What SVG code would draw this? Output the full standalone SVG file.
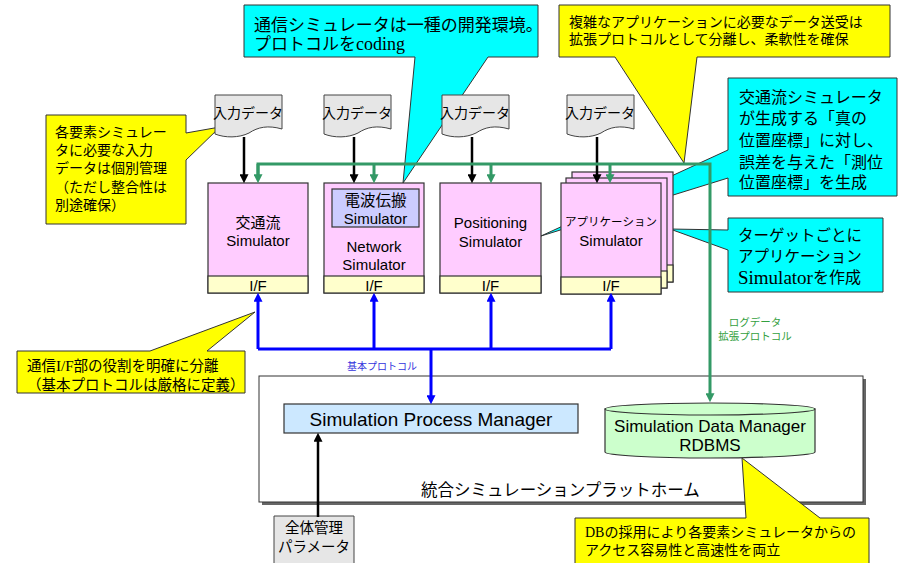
<svg xmlns="http://www.w3.org/2000/svg" width="899" height="563" viewBox="0 0 899 563">
<style>
text{font-family:'Liberation Sans','Noto Sans CJK JP',sans-serif;fill:#000;dominant-baseline:central}
.serif{font-family:'Liberation Serif','Noto Sans CJK JP',serif}
.c{text-anchor:middle}
.box{fill:#ffccff;stroke:#333;stroke-width:1.2}
.if{fill:#ffffcc;stroke:#333;stroke-width:1.2}
.doc{fill:#e6e6e6;stroke:#444;stroke-width:1}
.yel{fill:#ffff00;stroke:#333;stroke-width:1}
.cyan{fill:#00ffff;stroke:#333;stroke-width:1}
.blk{stroke:#000;stroke-width:2.5;fill:none}
.grn{stroke:#339966;stroke-width:3;fill:none}
.blu{stroke:#0000ff;stroke-width:3;fill:none}
.lbl{font-size:15px}
</style>
<defs>
<marker id="ab" markerUnits="userSpaceOnUse" markerWidth="9" markerHeight="9" viewBox="0 0 10 10" refX="2" refY="5" orient="auto"><path d="M0,0 L10,5 L0,10 Z" fill="#000"/></marker>
<marker id="ag" markerUnits="userSpaceOnUse" markerWidth="9" markerHeight="9" viewBox="0 0 10 10" refX="2" refY="5" orient="auto"><path d="M0,0 L10,5 L0,10 Z" fill="#339966"/></marker>
<marker id="abl" markerUnits="userSpaceOnUse" markerWidth="9" markerHeight="9" viewBox="0 0 10 10" refX="2" refY="5" orient="auto"><path d="M0,0 L10,5 L0,10 Z" fill="#0000ff"/></marker>
<path id="docshape" d="M0,0 H67 V34 C53,30 43,32 34,38 C24,43 10,43 0,39 Z"/>
</defs>

<!-- callouts behind nodes -->
<g id="callout-left">
<path class="yel" d="M46,115 H186 V133 L220,127 L186,160 V224 H46 Z"/>
<text x="55" y="132" font-size="14">各要素シミュレー</text>
<text x="55" y="150" font-size="14">タに必要な入力</text>
<text x="55" y="168" font-size="14">データは個別管理</text>
<text x="55" y="187" font-size="14">（ただし整合性は</text>
<text x="55" y="205" font-size="14">別途確保）</text>
</g>
<g id="callout-top">
<path class="cyan" d="M244,5 H538 V57 H488 L403,183 L415,57 H244 Z"/>
<text x="254" y="25" font-size="17">通信シミュレータは一種の開発環境。</text>
<text x="254" y="44" font-size="17">プロトコルを<tspan class="serif" font-size="18">coding</tspan></text>
</g>
<g id="callout-topright">
<path class="yel" d="M559,5 H890 V57 H697 L684,163 L615,57 H559 Z"/>
<text x="569" y="22" font-size="14">複雑なアプリケーションに必要なデータ送受は</text>
<text x="569" y="39" font-size="14">拡張プロトコルとして分離し、柔軟性を確保</text>
</g>
<g id="callout-right1">
<path class="cyan" d="M728,78 H897 V196 H728 V178 L541,236 L728,150 Z"/>
<text x="739" y="97" font-size="16">交通流シミュレータ</text>
<text x="739" y="118" font-size="16">が生成する「真の</text>
<text x="739" y="140" font-size="16">位置座標」に対し、</text>
<text x="739" y="162" font-size="16">誤差を与えた「測位</text>
<text x="739" y="182" font-size="16">位置座標」を生成</text>
</g>
<g id="callout-right2">
<path class="cyan" d="M728,218 H883 V292 H728 V250 L670,229 L728,230 Z"/>
<text x="738" y="235" font-size="15.5">ターゲットごとに</text>
<text x="738" y="256" font-size="15.5">アプリケーション</text>
<text x="738" y="277" font-size="16"><tspan class="serif" font-size="19">Simulator</tspan>を作成</text>
</g>
<g id="callout-bottomleft">
<path class="yel" d="M17,351 H150 L255,312 L207,351 H245 V393 H17 Z"/>
<text x="27" y="366" font-size="14.5">通信<tspan class="serif" font-size="15">I/F</tspan>部の役割を明確に分離</text>
<text x="27" y="385" font-size="14.5">（基本プロトコルは厳格に定義）</text>
</g>

<!-- input docs -->
<g id="doc1"><use href="#docshape" class="doc" x="215" y="95"/><text class="c" x="248" y="113" font-size="14">入力データ</text></g>
<g id="doc2"><use href="#docshape" class="doc" x="324" y="95"/><text class="c" x="357" y="113" font-size="14">入力データ</text></g>
<g id="doc3"><use href="#docshape" class="doc" x="442" y="95"/><text class="c" x="475" y="113" font-size="14">入力データ</text></g>
<g id="doc4"><use href="#docshape" class="doc" x="567" y="95"/><text class="c" x="600" y="113" font-size="14">入力データ</text></g>

<!-- simulators -->
<g id="traffic-sim">
<rect class="box" x="208" y="183" width="100" height="110"/>
<rect class="if" x="208" y="276" width="100" height="17"/>
<text class="c lbl" x="258" y="222">交通流</text>
<text class="c lbl" x="258" y="240">Simulator</text>
<text class="c lbl" x="258" y="285">I/F</text>
</g>
<g id="network-sim">
<rect class="box" x="324" y="183" width="100" height="110"/>
<rect class="if" x="324" y="276" width="100" height="17"/>
<rect x="332" y="189" width="87" height="38" fill="#ccccff" stroke="#333" stroke-width="1.2"/>
<text class="c" x="375.5" y="200" font-size="15.5">電波伝搬</text>
<text class="c lbl" x="375.5" y="218">Simulator</text>
<text class="c lbl" x="374" y="246">Network</text>
<text class="c lbl" x="374" y="264">Simulator</text>
<text class="c lbl" x="374" y="285">I/F</text>
</g>
<g id="positioning-sim">
<rect class="box" x="440" y="183" width="101" height="110"/>
<rect class="if" x="440" y="276" width="101" height="17"/>
<text class="c lbl" x="490.5" y="222">Positioning</text>
<text class="c lbl" x="490.5" y="241">Simulator</text>
<text class="c lbl" x="490.5" y="285">I/F</text>
</g>
<g id="application-sim">
<rect class="box" x="572" y="172" width="101" height="110"/>
<rect class="if" x="572" y="265" width="101" height="17"/>
<rect class="box" x="566" y="178" width="101" height="110"/>
<rect class="if" x="566" y="271" width="101" height="17"/>
<rect class="box" x="561" y="183" width="100" height="111"/>
<rect class="if" x="561" y="277" width="100" height="17"/>
<text class="c" x="611" y="222" font-size="11.5">アプリケーション</text>
<text class="c lbl" x="611" y="240">Simulator</text>
<text class="c lbl" x="611" y="285.5">I/F</text>
</g>

<!-- platform -->
<g id="platform">
<rect x="262" y="379" width="604" height="126" fill="#666"/>
<rect x="259" y="376" width="604" height="126" fill="#fff" stroke="#333" stroke-width="1"/>
<text x="421" y="490" font-size="16.5">統合シミュレーションプラットホーム</text>
</g>
<g id="process-manager">
<rect x="284" y="404" width="294" height="29" fill="#cce8ff" stroke="#333" stroke-width="1.2"/>
<text class="c" x="431" y="419" font-size="19">Simulation Process Manager</text>
</g>
<g id="data-manager">
<path d="M605,409 V452 A105,6 0 0 0 815,452 V409 Z" fill="#ccffcc" stroke="#333" stroke-width="1.2"/>
<ellipse cx="710" cy="409" rx="105" ry="6" fill="#ccffcc" stroke="#333" stroke-width="1.2"/>
<text class="c" x="710" y="426" font-size="17">Simulation Data Manager</text>
<text class="c" x="710" y="445" font-size="17">RDBMS</text>
</g>
<g id="global-params">
<path d="M274,516 H354 V570 H274 Z" class="doc"/>
<text class="c" x="314" y="528" font-size="14.5">全体管理</text>
<text class="c" x="314" y="547" font-size="14.5">パラメータ</text>
</g>

<!-- connectors -->
<g id="connectors">
<path class="blk" d="M244,137 V176" marker-end="url(#ab)"/>
<path class="blk" d="M354,137 V176" marker-end="url(#ab)"/>
<path class="blk" d="M472,137 V176" marker-end="url(#ab)"/>
<path class="blk" d="M597,137 V176" marker-end="url(#ab)"/>
<path class="grn" d="M258,176 V164 H710 V395" marker-end="url(#ag)"/>
<path class="grn" d="M258,164 V176" marker-end="url(#ag)"/>
<path class="grn" d="M374,164 V176" marker-end="url(#ag)"/>
<path class="grn" d="M491,164 V176" marker-end="url(#ag)"/>
<path class="grn" d="M610,164 V176" marker-end="url(#ag)"/>
<path class="blu" d="M258,349 H611"/>
<path class="blu" d="M258,349 V300" marker-end="url(#abl)"/>
<path class="blu" d="M374,349 V300" marker-end="url(#abl)"/>
<path class="blu" d="M491,349 V300" marker-end="url(#abl)"/>
<path class="blu" d="M611,349 V300" marker-end="url(#abl)"/>
<path class="blu" d="M431,349 V397" marker-end="url(#abl)"/>
<path class="blk" d="M318,517 V440" marker-end="url(#ab)"/>
<text class="c" x="382" y="366" font-size="10" style="fill:#3333dd">基本プロトコル</text>
<text class="c" x="755" y="322" font-size="10.5" style="fill:#33a040">ログデータ</text>
<text class="c" x="755" y="336" font-size="10.5" style="fill:#33a040">拡張プロトコル</text>
</g>

<g id="callout-bottomright">
<path class="yel" d="M575,518 H746 L742,458 L820,518 H869 V570 H575 Z"/>
<text x="585" y="532" font-size="14"><tspan class="serif">DB</tspan>の採用により各要素シミュレータからの</text>
<text x="585" y="550" font-size="14">アクセス容易性と高速性を両立</text>
</g>
</svg>
